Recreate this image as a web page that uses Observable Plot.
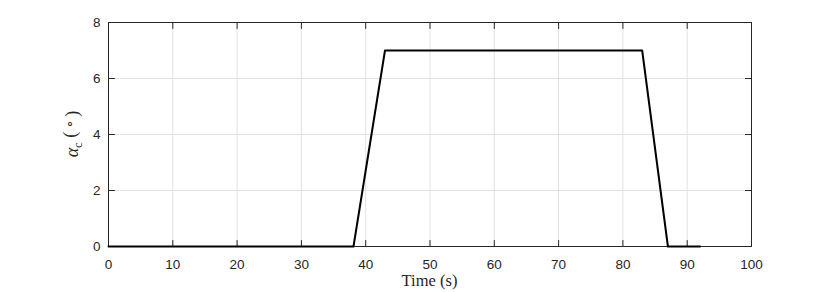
<!DOCTYPE html>
<html><head><meta charset="utf-8">
<script src="https://cdn.jsdelivr.net/npm/d3@7"></script>
<script src="https://cdn.jsdelivr.net/npm/@observablehq/plot@0.6"></script>
<style>body{margin:0;background:#fff}</style>
</head><body><div id="chart"></div>
<script>
const times = [0, 38.1, 43, 83, 87, 92];
const alphaC = [0, 0, 7, 7, 0, 0];
const xTicks = [0, 10, 20, 30, 40, 50, 60, 70, 80, 90, 100];
const yTicks = [0, 2, 4, 6, 8];
const xDomain = [0, 100];
const yDomain = [0, 8];
const xLabel = "Time (s)";

const data = times.map((t, i) => ({t, a: alphaC[i]}));
const tickShape = {draw(ctx, l) { ctx.moveTo(0, 0); ctx.lineTo(0, -l); }};
const axisColor = "#262626";

const plot = Plot.plot({
  width: 830, height: 292,
  marginLeft: 108, marginRight: 79, marginTop: 22, marginBottom: 46,
  style: {fontFamily: "'Liberation Sans', Arial, sans-serif", fontSize: "13.5px", color: axisColor, background: "#fff"},
  x: {domain: xDomain, label: null},
  y: {domain: yDomain, label: null},
  marks: [
    Plot.gridX(xTicks, {stroke: "#e2e2e2", strokeOpacity: 1}),
    Plot.gridY(yTicks, {stroke: "#e2e2e2", strokeOpacity: 1}),
    Plot.vector(xTicks, {x: d => d, y: yDomain[0], length: 6, rotate: 0, anchor: "start", shape: tickShape, stroke: axisColor, strokeWidth: 1}),
    Plot.vector(xTicks, {x: d => d, y: yDomain[1], length: 6, rotate: 180, anchor: "start", shape: tickShape, stroke: axisColor, strokeWidth: 1}),
    Plot.vector(yTicks, {y: d => d, x: xDomain[0], length: 6, rotate: 90, anchor: "start", shape: tickShape, stroke: axisColor, strokeWidth: 1}),
    Plot.vector(yTicks, {y: d => d, x: xDomain[1], length: 6, rotate: -90, anchor: "start", shape: tickShape, stroke: axisColor, strokeWidth: 1}),
    Plot.axisX(xTicks, {tickSize: 0, tickPadding: 13, label: null, fill: axisColor}),
    Plot.axisY(yTicks, {tickSize: 0, tickPadding: 8, label: null, fill: axisColor}),
    Plot.frame({stroke: axisColor, strokeWidth: 1}),
    Plot.line(data, {x: "t", y: "a", stroke: "#000", strokeWidth: 2})
  ]
});
document.getElementById("chart").appendChild(plot);

const svg = d3.select(plot);
const sx = plot.scale("x"), sy = plot.scale("y");
const cx = (sx.apply(xDomain[0]) + sx.apply(xDomain[1])) / 2;
const cy = (sy.apply(yDomain[0]) + sy.apply(yDomain[1])) / 2;

svg.append("text")
  .attr("x", cx).attr("y", 286)
  .attr("text-anchor", "middle")
  .style("font-family", "'Liberation Serif', 'Times New Roman', serif")
  .style("font-size", "16.5px")
  .attr("fill", axisColor)
  .text(xLabel);

const yl = svg.append("text")
  .attr("transform", `translate(78,${cy}) rotate(-90)`)
  .attr("text-anchor", "middle")
  .style("font-family", "'Liberation Serif', 'Times New Roman', serif")
  .style("font-size", "18px")
  .attr("fill", axisColor);
yl.append("tspan").style("font-style", "italic").text("α");
yl.append("tspan").attr("dy", "0.3em").style("font-size", "12.5px").text("c");
yl.append("tspan").attr("dy", "-0.3em").text(" (\u2009");
yl.append("tspan").attr("dy", "-0.25em").style("font-size", "13px").text("∘");
yl.append("tspan").attr("dy", "0.25em").text("\u2009)");
</script>
</body></html>
